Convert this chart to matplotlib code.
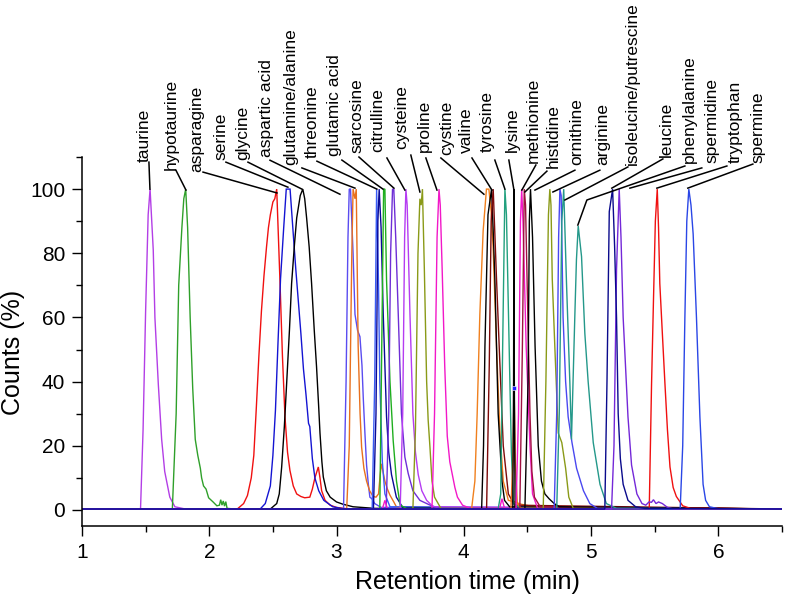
import numpy as np
import matplotlib
matplotlib.use("Agg")
import matplotlib.pyplot as plt
from matplotlib.ticker import MultipleLocator

plt.rcParams['font.family'] = ['Liberation Sans', 'DejaVu Sans']

# ---------------- chromatogram traces (time in min, counts in %) ----------------
taurine_t = [1.00, 1.46, 1.48, 1.50, 1.52, 1.535, 1.56, 1.573, 1.60, 1.626, 1.65, 1.69, 1.73, 1.80, 6.50]
taurine_v = [0.3, 0.3, 25, 62, 92, 100, 81, 60, 39, 22, 12, 4, 1, 0.4, 0.3]

hypotaurine_t = [1.00, 1.71, 1.74, 1.76, 1.785, 1.80, 1.815, 1.83, 1.85, 1.87, 1.89, 1.91, 1.93, 1.94,
                 1.955, 1.975, 1.995, 2.03, 2.06, 2.08, 2.09, 2.10, 2.11, 2.12, 2.13, 2.14, 2.20, 6.50]
hypotaurine_v = [0.3, 0.3, 30, 70, 88, 97, 100, 88, 60, 38, 22, 17, 13, 10,
                 7.5, 6.5, 3.8, 2.5, 1.3, 1.5, 3.2, 1.5, 2.8, 1.2, 2.6, 0.5, 0.3, 0.3]

asparagine_t = [1.00, 2.22, 2.27, 2.30, 2.33, 2.35, 2.37, 2.39, 2.41, 2.43, 2.45, 2.465, 2.48, 2.50, 2.515,
                2.53, 2.555, 2.575, 2.595, 2.615, 2.634, 2.66, 2.687, 2.72, 2.75, 2.79, 2.81, 2.83, 2.857,
                2.87, 2.883, 2.91, 2.95, 3.00, 3.10, 6.50]
asparagine_v = [0.3, 0.3, 2, 4.5, 10, 17, 32, 48, 62, 73, 82, 88, 92, 96, 97,
                100, 72, 48, 29, 18, 12.3, 7.5, 5, 4.2, 3.8, 4, 6.5, 10, 13.4,
                10, 6, 3, 1.5, 0.8, 0.3, 0.3]

serine_t = [1.00, 2.40, 2.44, 2.48, 2.50, 2.52, 2.54, 2.56, 2.585, 2.605, 2.635, 2.66, 2.68, 2.70, 2.72,
            2.74, 2.76, 2.78, 2.79, 2.81, 2.83, 2.86, 2.90, 2.97, 3.05, 6.50]
serine_v = [0.3, 0.3, 2, 7.5, 17, 31, 52, 72, 88, 100, 100, 86, 75, 65, 55,
            44, 36, 27, 26, 16, 10, 6, 3, 1, 0.4, 0.3]

glycine_t = [1.00, 2.48, 2.53, 2.55, 2.569, 2.59, 2.608, 2.63, 2.647, 2.67, 2.687, 2.715, 2.735, 2.75,
             2.765, 2.785, 2.804, 2.825, 2.843, 2.86, 2.87, 2.885, 2.896, 2.92, 2.95, 3.00, 3.05, 3.13,
             3.30, 6.50]
glycine_v = [0.3, 0.3, 2, 5, 13.4, 26, 39.4, 56, 70.6, 83, 91, 98, 100, 97,
             91, 82, 70.6, 56, 44.6, 32, 24, 15, 10.3, 6, 4, 2.5, 1.8, 1,
             0.5, 0.3]

aspartic_t = [1.00, 3.055, 3.075, 3.09, 3.10, 3.11, 3.13, 3.145, 3.165, 3.184, 3.20, 3.21, 3.223, 3.236,
              3.25, 3.262, 3.28, 3.30, 3.35, 6.50]
aspartic_v = [0.3, 0.3, 40, 85, 100, 100, 80, 61, 56, 54, 45, 35, 24, 14,
              8, 4, 3.4, 2, 0.8, 0.3]

glutamine_t = [1.00, 3.08, 3.10, 3.12, 3.13, 3.145, 3.155, 3.17, 3.185, 3.197, 3.215, 3.236, 3.26, 3.288,
               3.31, 3.33, 3.343, 3.353, 3.365, 3.38, 3.40, 3.42, 3.45, 3.47, 3.52, 6.50]
glutamine_v = [0.3, 0.3, 20, 80, 100, 97, 100, 51, 30, 19.6, 13, 9, 6, 4.2,
               4, 5, 11, 14.4, 12, 9, 6.5, 4.6, 2.5, 1, 0.4, 0.3]

blue_b_t = [1.00, 3.28, 3.30, 3.315, 3.33, 3.34, 3.36, 3.38, 3.42, 6.50]
blue_b_v = [0.3, 0.3, 40, 100, 70, 40, 15, 5, 1, 0.3]

threonine_t = [1.00, 3.29, 3.31, 3.325, 3.335, 3.35, 3.367, 3.393, 3.41, 3.432, 3.47, 3.52, 6.50]
threonine_v = [0.3, 0.3, 30, 90, 100, 88, 61, 29, 18, 11, 4, 0.8, 0.3]

glutamic_t = [1.00, 3.34, 3.355, 3.37, 3.38, 3.393, 3.405, 3.42, 3.445, 3.471, 3.50, 3.55, 6.50]
glutamic_v = [0.3, 0.3, 50, 100, 100, 71.6, 58, 40, 21.7, 9, 1.5, 0.5, 0.3]

sarcosine_t = [1.00, 3.39, 3.41, 3.425, 3.44, 3.45, 3.465, 3.485, 3.51, 3.537, 3.563, 3.60, 3.655, 3.73,
               3.80, 6.50]
sarcosine_v = [0.3, 0.3, 30, 80, 100, 100, 85, 61, 30, 16.5, 11.4, 6, 3, 1.6,
               0.6, 0.3]

citrulline_t = [1.00, 3.50, 3.52, 3.535, 3.545, 3.555, 3.577, 3.60, 3.62, 3.642, 3.67, 3.708, 3.76, 6.50]
citrulline_v = [0.3, 0.3, 30, 85, 100, 95, 61, 30, 18, 11, 6, 3, 1, 0.3]

cysteine_t = [1.00, 3.60, 3.62, 3.64, 3.655, 3.665, 3.675, 3.69, 3.708, 3.72, 3.734, 3.75, 3.77, 3.82, 6.50]
cysteine_v = [0.3, 0.3, 25, 80, 97, 95, 100, 75, 40, 28, 19.6, 9, 4, 0.5, 0.3]

proline_t = [1.00, 3.36, 3.38, 3.40, 3.75, 3.77, 3.79, 3.805, 3.815, 3.83, 3.85, 3.87, 3.89, 3.91, 3.93,
             3.95, 3.99, 4.05, 6.50]
proline_v = [0.3, 0.3, 3, 0.3, 0.3, 30, 85, 100, 95, 75, 45, 23, 15, 11, 7,
             4, 1.5, 0.5, 0.3]

cystine_t = [1.00, 4.061, 4.087, 4.105, 4.126, 4.152, 4.178, 4.197, 4.215, 4.23, 4.257, 4.283, 4.31, 4.35,
             4.40, 4.45, 4.55, 6.50]
cystine_v = [0.3, 0.3, 9, 30, 61, 87, 100, 100, 93, 82, 51, 25, 9, 3,
             2.5, 1.8, 1, 0.3]

valine_t = [1.00, 4.14, 4.155, 4.166, 4.19, 4.218, 4.23, 4.244, 4.27, 4.30, 4.32, 4.36, 6.50]
valine_v = [0.3, 0.3, 20, 51, 92, 100, 88, 72, 30, 9, 3, 1, 0.3]

tyrosine_t = [1.00, 4.179, 4.20, 4.215, 4.231, 4.257, 4.283, 4.31, 4.35, 4.40, 6.50]
tyrosine_v = [0.3, 0.3, 45, 90, 100, 72, 46, 20, 5, 1.5, 0.3]

teal_a_t = [1.00, 4.27, 4.29, 4.305, 4.323, 4.335, 4.362, 4.374, 4.39, 4.45, 6.50]
teal_a_v = [0.3, 0.3, 5, 50, 100, 92, 40, 18, 2, 0.5, 0.3]

orange_b_t = [1.00, 4.37, 4.385, 4.395, 4.405, 4.42, 4.45, 6.50]
orange_b_v = [0.3, 0.3, 15, 38, 15, 2, 0.5, 0.3]

lysine_t = [1.00, 4.385, 4.391, 4.394, 4.397, 4.403, 6.50]
lysine_v = [0.3, 0.3, 40, 100, 40, 0.3, 0.3]

methionine_t = [1.00, 4.28, 4.30, 4.32, 4.41, 4.43, 4.445, 4.455, 4.465, 4.49, 4.52, 4.54, 4.58, 6.50]
methionine_v = [0.3, 0.3, 3.5, 0.5, 0.3, 30, 90, 100, 90, 51, 20, 5, 0.5, 0.3]

histidine_t = [1.00, 4.44, 4.46, 4.475, 4.485, 4.506, 4.52, 4.535, 4.555, 4.60, 6.50]
histidine_v = [0.3, 0.3, 50, 100, 95, 55, 30, 12, 4, 1, 0.3]

ornithine_t = [1.00, 4.48, 4.505, 4.515, 4.524, 4.54, 4.56, 4.585, 4.61, 4.637, 4.67, 4.71, 4.75, 6.50]
ornithine_v = [0.3, 0.3, 40, 90, 100, 85, 51, 20, 9, 5, 3.5, 2, 1, 0.3]

arginine_t = [1.00, 4.624, 4.645, 4.665, 4.676, 4.685, 4.695, 4.716, 4.742, 4.77, 4.80, 4.825, 4.86, 6.50]
arginine_v = [0.3, 0.3, 40, 92, 100, 95, 72, 50, 24, 21, 13, 4, 0.5, 0.3]

violet_b_t = [1.00, 4.71, 4.73, 4.745, 4.755, 4.765, 4.78, 4.80, 4.82, 4.85, 4.886, 4.94, 4.99, 5.05, 6.50]
violet_b_v = [0.3, 0.3, 30, 85, 100, 98, 60, 40, 29, 21, 13, 6, 2, 0.5, 0.3]

isoleucine_t = [1.00, 4.73, 4.75, 4.77, 4.785, 4.807, 4.833, 4.846, 4.872, 4.885, 4.899, 4.925, 4.951,
                4.977, 5.017, 5.07, 5.12, 5.20, 6.50]
isoleucine_v = [0.3, 0.3, 30, 90, 100, 70.6, 40, 22, 60, 78, 88.5, 79, 55,
                40, 21, 8, 2, 0.5, 0.3]

leucine_t = [1.00, 5.108, 5.125, 5.143, 5.169, 5.185, 5.20, 5.213, 5.23, 5.252, 5.29, 5.35, 5.42, 6.50]
leucine_v = [0.3, 0.3, 40, 93, 100, 82, 60, 30, 16, 8, 3, 1, 0.5, 0.3]

spermidine_t = [1.00, 5.161, 5.18, 5.20, 5.221, 5.235, 5.252, 5.29, 5.318, 5.36, 5.40, 5.43, 5.455,
                5.475, 5.49, 5.51, 5.53, 5.56, 5.60, 5.65, 6.50]
spermidine_v = [0.3, 0.3, 20, 75, 100, 85, 60, 29, 14, 5, 2, 1.5, 2.5,
                2.4, 3.2, 2, 2.5, 2, 0.8, 0.3, 0.3]

tryptophan_t = [1.00, 5.457, 5.475, 5.49, 5.505, 5.52, 5.53, 5.54, 5.56, 5.58, 5.60, 5.62, 5.645, 5.67,
                5.72, 5.78, 6.50]
tryptophan_v = [0.3, 0.3, 39, 65, 90, 100, 88, 70.6, 55, 39.6, 25, 13.4, 7, 4.2,
                1.3, 0.5, 0.3]

spermine_t = [1.00, 5.70, 5.72, 5.737, 5.752, 5.768, 5.785, 5.802, 5.828, 5.855, 5.88, 5.90, 5.93, 6.00, 6.50]
spermine_v = [0.3, 0.3, 20, 60, 90, 100, 95, 86, 60, 29, 8, 3, 1, 0.4, 0.3]

# ---------------- peak labels ----------------
label_names = ['taurine', 'hypotaurine', 'asparagine', 'serine', 'glycine', 'aspartic acid',
               'glutamine/alanine', 'threonine', 'glutamic acid', 'sarcosine', 'citrulline',
               'cysteine', 'proline', 'cystine', 'valine', 'tyrosine', 'lysine', 'methionine',
               'histidine', 'ornithine', 'arginine', 'isoleucine/putrescine', 'leucine',
               'phenylalanine', 'spermidine', 'tryptophan', 'spermine']

# ---------------- styling / layout ----------------
traces = [
    (taurine_t, taurine_v, '#b33ee6'),
    (hypotaurine_t, hypotaurine_v, '#2fa02a'),
    (asparagine_t, asparagine_v, '#f01010'),
    (serine_t, serine_v, '#1414d2'),
    (glycine_t, glycine_v, '#000000'),
    (aspartic_t, aspartic_v, '#5a4cf0'),
    (glutamine_t, glutamine_v, '#e8701e'),
    (blue_b_t, blue_b_v, '#3a5cf5'),
    (threonine_t, threonine_v, '#0a0a96'),
    (glutamic_t, glutamic_v, '#1fae1f'),
    (sarcosine_t, sarcosine_v, '#6e2ed6'),
    (citrulline_t, citrulline_v, '#b53cf2'),
    (cysteine_t, cysteine_v, '#8a9a18'),
    (proline_t, proline_v, '#f218c8'),
    (cystine_t, cystine_v, '#f0801e'),
    (valine_t, valine_v, '#000000'),
    (tyrosine_t, tyrosine_v, '#7d0a0a'),
    (teal_a_t, teal_a_v, '#22a07e'),
    (orange_b_t, orange_b_v, '#e8701e'),
    (lysine_t, lysine_v, '#000000'),
    (methionine_t, methionine_v, '#f218c8'),
    (histidine_t, histidine_v, '#a01040'),
    (ornithine_t, ornithine_v, '#000000'),
    (arginine_t, arginine_v, '#8a9a18'),
    (violet_b_t, violet_b_v, '#4a48f0'),
    (isoleucine_t, isoleucine_v, '#24988a'),
    (tryptophan_t, tryptophan_v, '#f01010'),
    (spermine_t, spermine_v, '#2a46e6'),
    (spermidine_t, spermidine_v, '#7428d8'),
    (leucine_t, leucine_v, '#0a0a8c'),
]

# text anchor (centre, bottom) and leader polyline, in data units
label_pos = [(1.491, 108.4), (1.705, 105.9), (1.901, 105.3), (2.092, 109.0), (2.261, 109.0),
             (2.453, 110.0), (2.642, 107.5), (2.811, 109.7), (2.987, 110.3), (3.160, 111.2),
             (3.325, 111.5), (3.514, 112.5), (3.694, 111.5), (3.867, 110.6), (4.024, 111.2),
             (4.181, 111.5), (4.378, 111.5), (4.543, 108.1), (4.700, 106.6), (4.888, 107.5),
             (5.093, 107.5), (5.321, 107.5), (5.595, 110.0), (5.776, 108.1), (5.949, 108.1),
             (6.130, 108.1), (6.310, 108.1)]
leaders = [
    [(1.526, 108.4), (1.534, 100.0)],
    [(1.738, 105.9), (1.817, 99.7)],
    [(1.951, 105.3), (2.532, 98.8)],
    [(2.131, 108.4), (2.618, 100.6)],
    [(2.304, 108.4), (2.728, 100.0)],
    [(2.477, 109.0), (3.027, 98.4)],
    [(2.728, 106.6), (3.145, 100.3)],
    [(2.846, 108.7), (3.317, 100.0)],
    [(3.042, 109.05), (3.365, 100.0)],
    [(3.176, 110.0), (3.451, 100.3)],
    [(3.396, 109.7), (3.537, 99.7)],
    [(3.584, 110.6), (3.655, 99.1)],
    [(3.702, 109.7), (3.789, 99.7)],
    [(3.820, 109.7), (4.158, 98.4)],
    [(4.064, 109.7), (4.221, 99.7)],
    [(4.244, 109.05), (4.323, 100.0)],
    [(4.354, 109.05), (4.394, 99.7)],
    [(4.566, 107.5), (4.456, 99.7)],
    [(4.653, 105.6), (4.480, 99.1)],
    [(4.873, 105.9), (4.559, 99.7)],
    [(5.069, 105.9), (4.700, 99.1)],
    [(5.289, 106.9), (4.794, 96.6)],
    [(5.564, 109.4), (5.163, 100.3)],
    [(5.737, 107.2), (4.967, 96.6), (4.896, 88.8)],
    [(5.870, 106.6), (5.305, 100.3)],
    [(6.067, 107.2), (5.517, 100.3)],
    [(6.271, 107.8), (5.760, 100.3)],
]

fig = plt.figure(figsize=(7.86, 6.0), dpi=100)
ax = fig.add_axes([0.1043, 0.1233, 0.8906, 0.615])

for t, v, c in traces:
    ax.plot(t, v, color=c, lw=1.0, solid_joinstyle='miter')

# small marker artefact on the lysine trace
ax.plot([4.394], [38], 's', color='#2020ff', ms=2.5, mec='white', mew=0.4)

for name, (lx, ly), pts in zip(label_names, label_pos, leaders):
    ax.text(lx, ly, name, rotation=90, ha='center', va='bottom', fontsize=12.5)
    xs = [p[0] for p in pts]
    ys = [p[1] for p in pts]
    ax.plot(xs, ys, color='black', lw=1.1, clip_on=False)

ax.set_xlim(1, 6.5)
ax.set_ylim(-5, 110)
ax.xaxis.set_major_locator(MultipleLocator(1))
ax.xaxis.set_minor_locator(MultipleLocator(0.5))
ax.yaxis.set_major_locator(MultipleLocator(20))
ax.yaxis.set_minor_locator(MultipleLocator(10))
ax.set_yticks([0, 20, 40, 60, 80, 100])
ax.spines['top'].set_visible(False)
ax.spines['right'].set_visible(False)
for s in ('left', 'bottom'):
    ax.spines[s].set_linewidth(1.1)
ax.tick_params(which='major', direction='out', length=7, width=1.0, labelsize=15, pad=5)
ax.tick_params(which='minor', direction='out', length=4, width=1.0)

ax.set_xlabel('Retention time (min)', fontsize=18)
ax.set_ylabel('Counts (%)', fontsize=18)
ax.xaxis.set_label_coords(0.55, -0.12)
ax.yaxis.set_label_coords(-0.081, 0.47)

fig.savefig('out.png', dpi=100)
